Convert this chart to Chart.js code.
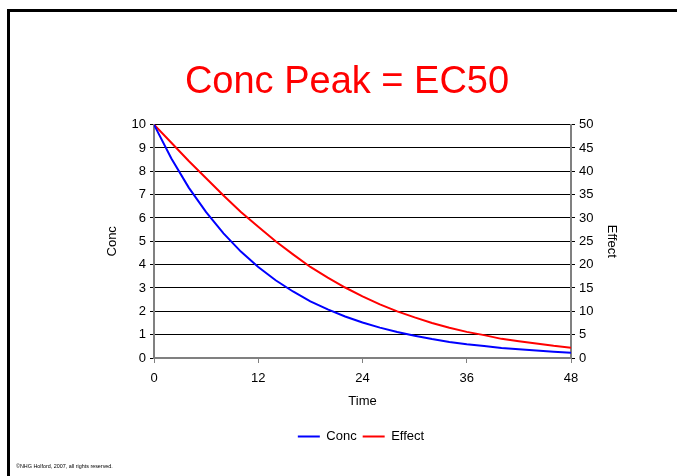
<!DOCTYPE html>
<html>
<head>
<meta charset="utf-8">
<script src="https://cdn.jsdelivr.net/npm/chart.js@4"></script>
<style>
  html, body { margin: 0; padding: 0; background: #fff; overflow: hidden; }
  #wrap { position: relative; width: 677px; height: 476px; }
  #frame { position: absolute; left: 7px; top: 9px; width: 720px; height: 520px; border: 3px solid #000; box-sizing: border-box; }
  #chartBox { position: absolute; left: 0; top: 0; width: 677px; height: 476px; }
  #footer { position: absolute; left: 16px; top: 463px; font: 5.4px "Liberation Sans", Arial, sans-serif; color: #000; white-space: nowrap; }
</style>
</head>
<body>
<div id="wrap">
  <div id="frame"></div>
  <div id="chartBox"><canvas id="myChart" width="677" height="476"></canvas></div>
  <div id="footer">©NHG Holford, 2007, all rights reserved.</div>
</div>
<script>
// Zaman (saat) ve okunan değerler
var times = [0, 2, 4, 6, 8, 10, 12, 14, 16, 18, 20, 22, 24, 26, 28, 30, 32, 34, 36, 38, 40, 42, 44, 46, 48];
var concValues = [10, 8.55, 7.3, 6.25, 5.34, 4.56, 3.9, 3.33, 2.85, 2.43, 2.08, 1.78, 1.52, 1.3, 1.11, 0.95, 0.81, 0.69, 0.59, 0.51, 0.43, 0.37, 0.32, 0.27, 0.23];
var effectValues = [50, 46.1, 42.2, 38.5, 34.8, 31.3, 28.1, 25.0, 22.2, 19.5, 17.2, 15.1, 13.2, 11.5, 10.0, 8.7, 7.5, 6.5, 5.6, 4.9, 4.1, 3.6, 3.1, 2.6, 2.2];
var timeTicks = [0, 12, 24, 36, 48];

var font = "'Liberation Sans', Arial, sans-serif";
Chart.defaults.font.family = font;
Chart.defaults.font.size = 13;
Chart.defaults.color = '#000';

// Lejantı biraz sağa kaydır (orijinaldeki gibi)
var legendShift = {
    id: 'legendShift',
    afterLayout: function (chart) {
        chart.legend.left += 14;
        chart.legend.right += 14;
    }
};

var ctx = document.getElementById('myChart').getContext('2d');
var chart = new Chart(ctx, {
    type: 'line',
    data: {
        datasets: [{
            label: 'Conc',
            data: times.map(function (t, i) { return { x: t, y: concValues[i] }; }),
            borderColor: '#0000FF',
            backgroundColor: '#0000FF',
            borderWidth: 2,
            pointRadius: 0,
            yAxisID: 'y'
        }, {
            label: 'Effect',
            data: times.map(function (t, i) { return { x: t, y: effectValues[i] }; }),
            borderColor: '#FF0000',
            backgroundColor: '#FF0000',
            borderWidth: 2,
            pointRadius: 0,
            yAxisID: 'y1'
        }]
    },
    plugins: [legendShift],
    options: {
        responsive: false,
        animation: false,
        layout: { padding: { left: 75, right: 58, top: 0, bottom: 23 } },
        plugins: {
            title: {
                display: true,
                text: 'Conc Peak = EC50',
                color: '#FF0000',
                font: { size: 38, weight: 'normal' },
                padding: { top: 60, bottom: 19 }
            },
            legend: {
                position: 'bottom',
                labels: {
                    usePointStyle: true,
                    pointStyle: 'line',
                    pointStyleWidth: 22,
                    padding: 6,
                    font: { size: 13 }
                }
            },
            tooltip: { enabled: false }
        },
        scales: {
            x: {
                type: 'linear',
                min: 0,
                max: 48,
                afterBuildTicks: function (axis) {
                    axis.ticks = timeTicks.map(function (v) { return { value: v }; });
                },
                afterFit: function (axis) { axis.height = 66; },
                grid: { drawOnChartArea: false, color: '#808080', tickLength: 5 },
                border: { color: '#808080', width: 2 },
                ticks: { padding: 8 },
                title: { display: true, text: 'Time', padding: { top: 0, bottom: 15 } }
            },
            y: {
                position: 'left',
                min: 0,
                max: 10,
                ticks: { stepSize: 1, padding: 4 },
                afterFit: function (axis) { axis.width = 79; },
                grid: { color: '#000', lineWidth: 1, tickLength: 4 },
                border: { color: '#808080', width: 2 },
                title: { display: true, text: 'Conc', padding: { top: 30, bottom: 0 } }
            },
            y1: {
                position: 'right',
                min: 0,
                max: 50,
                ticks: { stepSize: 5, padding: 4 },
                afterFit: function (axis) { axis.width = 48; },
                grid: { drawOnChartArea: false, color: '#000', tickLength: 4 },
                border: { color: '#808080', width: 2 },
                title: { display: true, text: 'Effect', padding: { top: 0, bottom: 0 } }
            }
        }
    }
});
</script>
</body>
</html>
